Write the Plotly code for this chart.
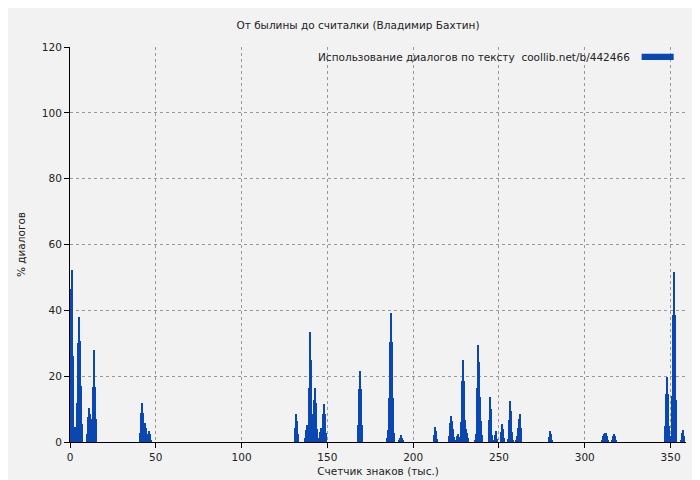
import plotly.graph_objects as go

# thousand-character position where each cluster of bars starts, and bar heights (%)
cluster_starts = [0.2, 9.9, 40.8, 131.1, 137.0, 167.8, 184.7, 191.7, 212.1, 220.9,
                  224.9, 227.9, 236.0, 244.2, 247.1, 251.2, 255.2, 259.9, 279.1,
                  310.0, 315.9, 346.7, 350.4, 356.1]
cluster_values = [
    [46.6, 46.6, 52.3, 26.2, 3.7, 4.5, 4.5, 11.9, 30, 37.9, 30.7, 17.1, 5.5],
    [2.5, 7.7, 10.3, 8.5, 5, 7, 16.6, 28, 16.6, 7],
    [2.7, 8.7, 11.7, 8.7, 2.7, 5.7, 4.2, 1.2, 2.4, 3.4, 2.4, 0.7],
    [4.3, 8.5, 6.3, 2.3],
    [1.3, 3.7, 5.3, 3.7, 16.5, 33.5, 25, 8.4, 6.7, 12.8, 16.4, 12, 4, 0.8, 1.3,
     3.1, 4.3, 2.8, 8.5, 11.5, 8.5, 2.8],
    [5.3, 16.2, 21.7, 16.2, 5.3],
    [1.3, 3.7, 13.4, 30.4, 39.2, 30.4, 13.4, 2.6],
    [0.5, 1.3, 2, 1.3, 0.5],
    [2.2, 4.6, 3.4, 1],
    [1.9, 5.9, 8, 6.5, 3.8, 1.4],
    [0.7, 1.9, 2.4, 1.6],
    [6.2, 18.6, 24.9, 18.6, 6.8, 4.1, 2.7, 1.2],
    [0.7, 2.4, 16.4, 29.5, 24.3, 13.7, 6.5, 2.2],
    [6.8, 13.7, 10.1, 2.2],
    [0.7, 2.2, 3.4, 0.9],
    [2.9, 5.5, 4, 1.2],
    [1, 6.8, 12.6, 9.3, 3, 0.7],
    [0.7, 1.9, 4.3, 7.1, 8.5, 4.3],
    [1.6, 3.4, 2.4, 0.7],
    [0.7, 1.8, 2.5, 2.8, 2.8, 1.8, 0.7],
    [0.7, 1.8, 2.5, 1.8, 0.7],
    [5, 14.7, 19.9, 14.7, 5],
    [1.7, 13.9, 38.7, 51.7, 38.7, 12.9],
    [0.7, 2.7, 3.7, 1.9],
]
step = 0.583  # bar spacing, thousand chars

xs, ys = [], []
for start, vals in zip(cluster_starts, cluster_values):
    for i, v in enumerate(vals):
        xs.append(start + step * i)
        ys.append(v)

BG = '#f2f2f2'
BLUE = '#0a47b0'
font = dict(family='DejaVu Sans', size=10.5, color='#222')

fig = go.Figure(go.Bar(x=xs, y=ys, width=step, marker=dict(color=BLUE, line=dict(width=0)),
                       showlegend=False))

axis = dict(showgrid=True, gridcolor='#999', griddash='dot', gridwidth=1,
            showline=True, linecolor='black', linewidth=1, ticks='outside',
            ticklen=5, tickcolor='black', zeroline=False, tickfont=font,
            automargin=False)
fig.update_layout(
    width=700, height=480, paper_bgcolor=BG, plot_bgcolor=BG, font=font,
    margin=dict(l=62, r=22, t=39, b=46),
    title=dict(text='От былины до считалки (Владимир Бахтин)', x=0.5, y=0.963,
               xanchor='center', yanchor='middle', font=font, automargin=False),
    xaxis=dict(axis, range=[0, 359], tickvals=[0, 50, 100, 150, 200, 250, 300, 350],
               title=dict(text='Счетчик знаков (тыс.)', font=font, standoff=6)),
    yaxis=dict(axis, range=[0, 120], dtick=20,
               title=dict(text='% диалогов', font=font, standoff=14)),
    bargap=0,
)
fig.add_annotation(xref='paper', yref='paper', x=0.912, y=0.975, xanchor='right',
                   yanchor='middle', showarrow=False, font=font,
                   text='Использование диалогов по тексту  coollib.net/b/442466')
fig.add_shape(type='rect', xref='paper', yref='paper', x0=0.928, x1=0.98,
              y0=0.967, y1=0.983, fillcolor=BLUE, line=dict(width=0))

fig.write_html("out.html")
